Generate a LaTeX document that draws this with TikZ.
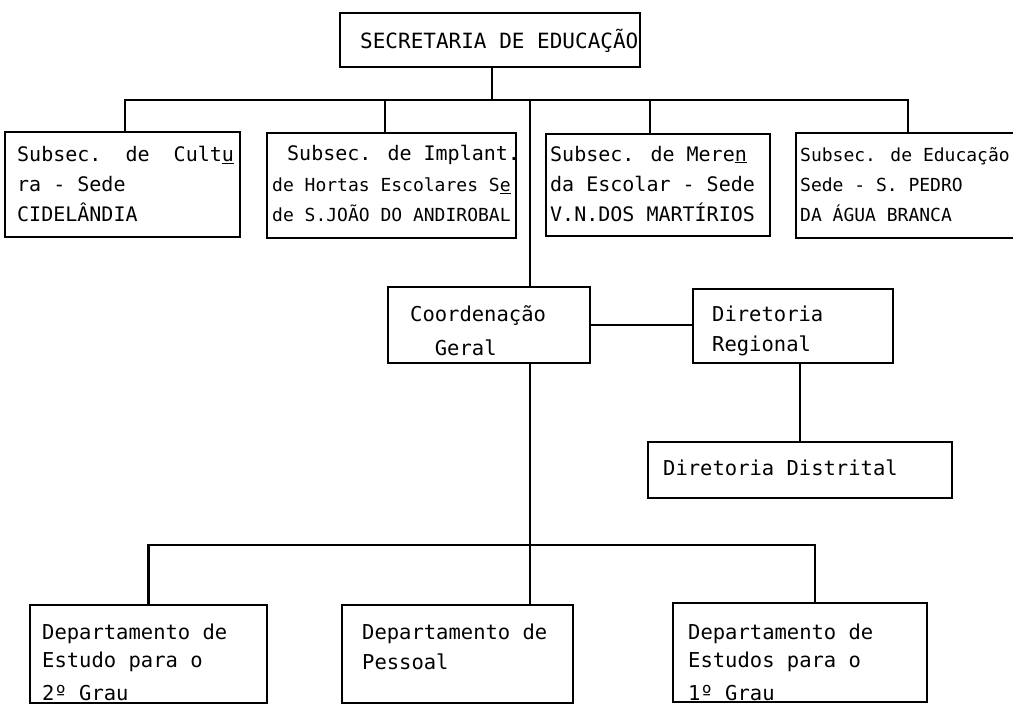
\documentclass[tikz,border=0pt]{standalone}
\usepackage{fontspec}
\newfontfamily\twfont{DejaVu Sans Mono}
\newcommand\mfA{\twfont\fontsize{20}{30}\selectfont}
\newcommand\mfB{\twfont\fontsize{18}{30}\selectfont}
\newcommand\mfT{\twfont\fontsize{21}{30}\selectfont}
\newcommand\mfC{\twfont\fontsize{20.5}{30}\selectfont}
\tikzset{
  box/.style={draw, line width=2pt, inner sep=0pt},
  txt/.style={anchor=north west, inner sep=0pt, align=left},
  conn/.style={line width=2.2pt},
}
\begin{document}
\begin{tikzpicture}[x=1pt,y=-1pt]
\useasboundingbox (0,0) rectangle (1013,705);
% boxes
\node[box, minimum width=300pt, minimum height=54pt] (sec) at (490,40) {};
\node[box, minimum width=235pt, minimum height=105pt] (b1) at (122.5,184.5) {};
\node[box, minimum width=249pt, minimum height=105pt] (b2) at (391.5,185.5) {};
\node[box, minimum width=224pt, minimum height=102pt] (b3) at (658,185) {};
\node[box, draw=none, minimum width=223pt, minimum height=103pt] (b4) at (908.5,185.5) {};
\draw[line width=2pt] (b4.north east) -- (b4.north west) -- (b4.south west) -- (b4.south east);
\node[box, minimum width=202pt, minimum height=76pt] (coord) at (489,325) {};
\node[box, minimum width=200pt, minimum height=74pt] (dr) at (793,326) {};
\node[box, minimum width=304pt, minimum height=56pt] (dist) at (800,470) {};
\node[box, minimum width=237pt, minimum height=98pt] (pA) at (148.5,654) {};
\node[box, minimum width=231pt, minimum height=98pt] (pB) at (457.5,654) {};
\node[box, minimum width=254pt, minimum height=99pt] (pC) at (800,652.5) {};
% texts
\node[txt, font=\mfT] (tsec) at (360,27) {\strut SECRETARIA DE EDUCAÇÃO};
\node[txt, font=\mfA] (tb1) at (17,140) {\strut Subsec.\ \ de\ \ Cult\underline{u}\\ra - Sede\\CIDELÂNDIA};
\node[txt, font=\mfA] (tb2a) at (287,139) {\strut Subsec. de Implant.};
\node[txt, font=\mfB] (tb2b) at (272,170) {\strut de Hortas Escolares S\underline{e}\\de S.JOÃO DO ANDIROBAL};
\node[txt, font=\mfA] (tb3) at (550,140) {\strut Subsec. de Mere\underline{n}\\da Escolar - Sede\\V.N.DOS MARTÍRIOS};
\node[txt, font=\mfB] (tb4) at (800,140) {\strut Subsec. de Educação\\Sede - S. PEDRO\\DA ÁGUA BRANCA};
\node[txt, font=\mfC] (tcoord) at (410,300) {\strut Coordenação\\[4pt]\hspace*{24.7pt}Geral};
\node[txt, font=\mfC] (tdr) at (712,300) {\strut Diretoria\\Regional};
\node[txt, font=\mfC] (tdist) at (663,454) {\strut Diretoria Distrital};
\node[txt, font=\mfC] (tpA) at (42,618) {\strut Departamento de\\[-2pt]Estudo para o\\[3pt]2º Grau};
\node[txt, font=\mfC] (tpB) at (362,618) {\strut Departamento de\\Pessoal};
\node[txt, font=\mfC] (tpC) at (688,618) {\strut Departamento de\\[-2pt]Estudos para o\\[3pt]1º Grau};
% connectors
\coordinate (bus) at (492,100);
\coordinate (trunk) at (530,100);
\coordinate (bus2) at (530,545);
\coordinate (v1) at ([xshift=2.5pt]b1.north);
\coordinate (v2) at ([xshift=-6.5pt]b2.north);
\coordinate (v3) at ([xshift=-8pt]b3.north);
\coordinate (v4) at ([xshift=-0.5pt]b4.north);
\coordinate (vC) at ([xshift=15pt]pC.north);
\draw[conn] (sec.south -| bus) -- (bus);
\draw[conn] (v1) |- (bus) -| (v4);
\draw[conn] (v2) -- (v2 |- bus);
\draw[conn] (v3) -- (v3 |- bus);
\draw[conn] (trunk) -- (trunk |- coord.north);
\draw[conn] (coord.south -| trunk) -- (trunk |- pB.north);
\draw[conn] (pA.north) |- (vC |- bus2) -- (vC);
\draw[conn] (coord.east) -- (coord.east -| dr.west);
\draw[conn] (dr.south -| dist.north) -- (dist.north);
\end{tikzpicture}
\end{document}
